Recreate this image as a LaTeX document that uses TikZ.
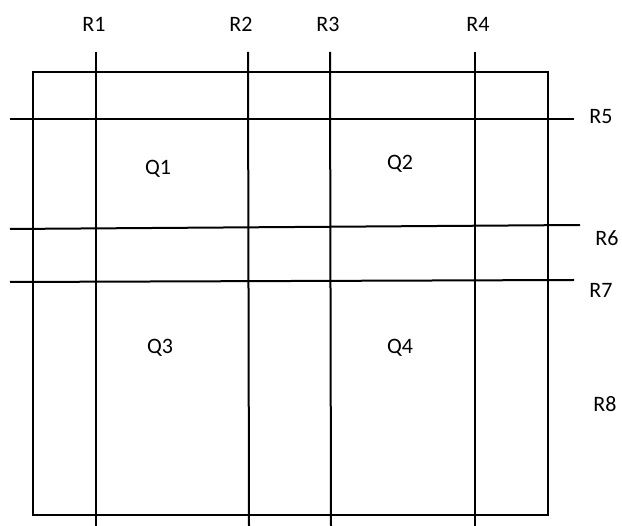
\documentclass[tikz,border=0pt]{standalone}
\usepackage{fontspec}
\setmainfont{Carlito}
\begin{document}
\begin{tikzpicture}[x=1pt,y=-1pt,
  ln/.style={line width=2pt,black},
  lab/.style={font=\fontsize{22}{26}\selectfont,inner sep=0pt}]
\useasboundingbox (0,0) rectangle (622,526);
% outer rectangle
\draw[ln] (33,72) rectangle (548,515);
% vertical lines
\coordinate (r1t) at (96,52);  \coordinate (r1b) at (96,526);
\coordinate (r2t) at (248,52); \coordinate (r2b) at (249,526);
\coordinate (r3t) at (330,52); \coordinate (r3b) at (331,526);
\coordinate (r4t) at (475,52); \coordinate (r4b) at (475,526);
\draw[ln] (r1t) -- (r1b);
\draw[ln] (r2t) -- (r2b);
\draw[ln] (r3t) -- (r3b);
\draw[ln] (r4t) -- (r4b);
% horizontal lines
\coordinate (r5l) at (10,119);  \coordinate (r5r) at (574,119);
\coordinate (r6l) at (10,229);  \coordinate (r6r) at (580,225);
\coordinate (r7l) at (10,282);  \coordinate (r7r) at (574,280);
\draw[ln] (r5l) -- (r5r);
\draw[ln] (r6l) -- (r6r);
\draw[ln] (r7l) -- (r7r);
% labels
\node[lab] (R1) at (94,24) {R1};
\node[lab] (R2) at (241,24) {R2};
\node[lab] (R3) at (328,24) {R3};
\node[lab] (R4) at (478,24) {R4};
\node[lab] (R5) at (601,117) {R5};
\node[lab] (R6) at (607,238) {R6};
\node[lab] (R7) at (601,290) {R7};
\node[lab] (R8) at (605,404) {R8};
\node[lab] (Q1) at (158,169) {Q1};
\node[lab] (Q2) at (400,164) {Q2};
\node[lab] (Q3) at (160,348) {Q3};
\node[lab] (Q4) at (400,348) {Q4};
\end{tikzpicture}
\end{document}
